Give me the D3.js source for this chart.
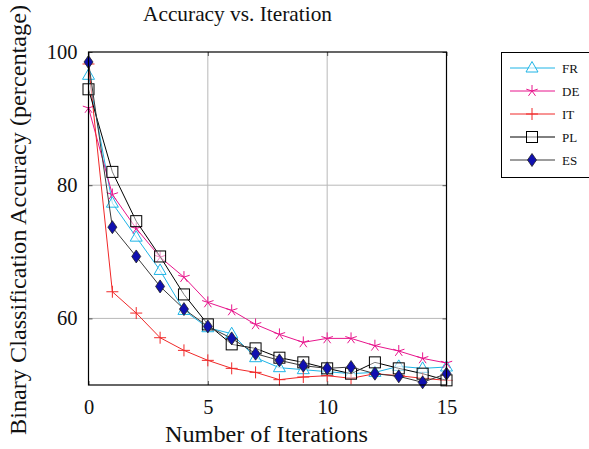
<!DOCTYPE html>
<html><head><meta charset="utf-8">
<script src="https://cdn.jsdelivr.net/npm/d3@7"></script>
<style>body{margin:0;background:#fff}svg{display:block}text{font-family:"Liberation Serif","Times New Roman",serif;fill:#111}</style>
</head><body><svg id="c" width="589" height="449"></svg>
<script>
const iterations = d3.range(0, 16);
const seriesNames = ["FR", "DE", "IT", "PL", "ES"];
const frValues = [96.5, 77.3, 72.2, 67.2, 61.2, 58.6, 57.7, 54.1, 52.6, 52.3, 52.0, 51.7, 51.9, 52.8, 52.5, 52.7];
const deValues = [91.6, 78.6, 73.5, 69.2, 66.2, 62.4, 61.2, 59.1, 57.6, 56.4, 57.0, 57.0, 55.9, 55.1, 54.0, 53.3];
const itValues = [98.2, 64.0, 60.8, 57.1, 55.2, 53.7, 52.5, 51.9, 50.8, 51.2, 51.4, 51.0, 51.7, 51.4, 51.0, 50.7];
const plValues = [94.4, 82.0, 74.6, 69.3, 63.6, 59.1, 56.1, 55.5, 54.1, 53.4, 52.5, 51.7, 53.4, 52.5, 51.7, 50.7];
const esValues = [98.5, 73.7, 69.3, 64.8, 61.4, 58.8, 57.0, 54.7, 53.7, 52.9, 52.5, 52.7, 51.7, 51.3, 50.4, 51.7];
const xTicks = [0, 5, 10, 15];
const yTicks = [60, 80, 100];

const series = [
  {name: "FR", values: frValues, line: "#1fb4e6", marker: "triangle"},
  {name: "DE", values: deValues, line: "#e8158c", marker: "star"},
  {name: "IT", values: itValues, line: "#f02828", marker: "plus"},
  {name: "PL", values: plValues, line: "#000000", marker: "square"},
  {name: "ES", values: esValues, line: "#3a3a3a", marker: "diamond"}
];

const svg = d3.select("#c");
const L = 88.5, R = 446.5, T = 52, B = 385;
const x = d3.scaleLinear().domain([0, 15]).range([L, R]);
const y = d3.scaleLinear().domain([50, 100]).range([B, T]);

// grid
const g = svg.append("g");
g.selectAll(".vg").data(xTicks.filter(t => t > 0 && t < 15)).enter().append("line")
  .attr("x1", d => x(d)).attr("x2", d => x(d)).attr("y1", T).attr("y2", B)
  .attr("stroke", "#b8b8b8").attr("stroke-width", 1);
g.selectAll(".hg").data(yTicks.filter(t => t < 100)).enter().append("line")
  .attr("y1", d => y(d)).attr("y2", d => y(d)).attr("x1", L).attr("x2", R)
  .attr("stroke", "#b8b8b8").attr("stroke-width", 1);

// axes via d3
const xAxisB = d3.axisBottom(x).tickValues(xTicks).tickSize(-4).tickPadding(14);
const xAxisT = d3.axisTop(x).tickValues(xTicks).tickSize(-4).tickFormat("");
const yAxisL = d3.axisLeft(y).tickValues(yTicks).tickSize(-4).tickPadding(11);
const yAxisR = d3.axisRight(y).tickValues(yTicks).tickSize(-4).tickFormat("");
function styleAxis(sel) {
  sel.select(".domain").remove();
  sel.selectAll(".tick line").attr("stroke", "#555");
  sel.selectAll("text").style("font-size", "20.5px").attr("fill", "#111");
}
svg.append("g").attr("transform", `translate(0,${B})`).call(xAxisB).call(styleAxis);
svg.append("g").attr("transform", `translate(0,${T})`).call(xAxisT).call(styleAxis);
svg.append("g").attr("transform", `translate(${L},0)`).call(yAxisL).call(styleAxis);
svg.append("g").attr("transform", `translate(${R},0)`).call(yAxisR).call(styleAxis);

function drawMarker(sel, type, color) {
  if (type === "triangle") {
    sel.append("path").attr("d", "M0,-6.5 L6,4 L-6,4 Z").attr("fill", "#fff").attr("fill-opacity", 0.6).attr("stroke", color).attr("stroke-width", 1);
  } else if (type === "star") {
    const p = d3.range(5).map(i => {
      const a = -Math.PI / 2 + i * 2 * Math.PI / 5;
      return `M0,0 L${(6 * Math.cos(a)).toFixed(2)},${(6 * Math.sin(a)).toFixed(2)}`;
    }).join(" ");
    sel.append("path").attr("d", p).attr("stroke", color).attr("stroke-width", 1).attr("fill", "none");
  } else if (type === "plus") {
    sel.append("path").attr("d", "M0,-6 L0,6 M-6,0 L6,0").attr("stroke", color).attr("stroke-width", 1).attr("fill", "none");
  } else if (type === "square") {
    sel.append("rect").attr("x", -5.5).attr("y", -5.5).attr("width", 11).attr("height", 11).attr("fill", "#fff").attr("fill-opacity", 0.5).attr("stroke", "#000").attr("stroke-width", 1);
  } else if (type === "diamond") {
    sel.append("path").attr("d", "M0,-6.5 L4.5,0 L0,6.5 L-4.5,0 Z").attr("fill", "#1010b0").attr("stroke", "#222").attr("stroke-width", 0.8);
  }
}

const line = d3.line().x((d, i) => x(iterations[i])).y(d => y(d));
series.forEach(s => {
  svg.append("path").datum(s.values).attr("d", line).attr("fill", "none").attr("stroke", s.line).attr("stroke-width", 1);
  s.values.forEach((v, i) => {
    const m = svg.append("g").attr("transform", `translate(${x(iterations[i])},${y(v)})`);
    drawMarker(m, s.marker, s.line);
  });
});

// frame
svg.append("rect").attr("x", L).attr("y", T).attr("width", R - L).attr("height", B - T)
  .attr("fill", "none").attr("stroke", "#000").attr("stroke-width", 1.2);

// titles
svg.append("text").attr("x", 237.5).attr("y", 21).attr("text-anchor", "middle").style("font-size", "21.5px")
  .attr("textLength", 189).attr("lengthAdjust", "spacingAndGlyphs").text("Accuracy vs. Iteration");
svg.append("text").attr("x", 266.5).attr("y", 442).attr("text-anchor", "middle").style("font-size", "23.5px")
  .attr("textLength", 203).attr("lengthAdjust", "spacingAndGlyphs").text("Number of Iterations");
svg.append("text").attr("transform", "translate(25.5,220) rotate(-90)").attr("text-anchor", "middle").style("font-size", "23.5px")
  .attr("textLength", 430).attr("lengthAdjust", "spacingAndGlyphs").text("Binary Classification Accuracy (percentage)");

// legend
const lg = svg.append("g");
lg.append("rect").attr("x", 501.5).attr("y", 52.5).attr("width", 95).attr("height", 125).attr("fill", "#fff").attr("stroke", "#000").attr("stroke-width", 1);
const ly = d3.scalePoint().domain(seriesNames).range([68, 160]);
series.forEach(s => {
  const yy = ly(s.name);
  lg.append("line").attr("x1", 510).attr("x2", 555).attr("y1", yy).attr("y2", yy).attr("stroke", s.line).attr("stroke-width", 1);
  drawMarker(lg.append("g").attr("transform", `translate(532,${yy})`), s.marker, s.line);
  lg.append("text").attr("x", 562).attr("y", yy + 4.5).style("font-size", "13px").text(s.name);
});
</script></body></html>
